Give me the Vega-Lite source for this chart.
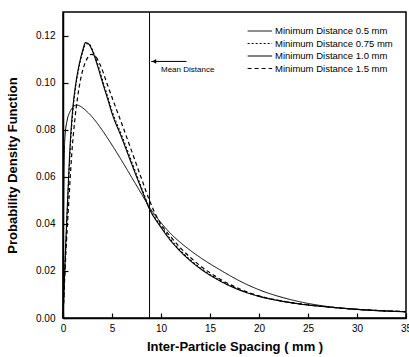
{
  "$schema": "https://vega.github.io/schema/vega-lite/v6.json",
  "width": 343,
  "height": 306,
  "autosize": {"type": "none"},
  "padding": {"left": 63, "top": 12, "right": 3, "bottom": 39},
  "background": "white",
  "config": {
    "font": "Liberation Sans",
    "view": {"stroke": "black", "strokeWidth": 1.5},
    "axis": {"domainColor": "black", "domainWidth": 1.5, "tickColor": "black", "tickWidth": 1.2, "labelColor": "black", "labelFont": "Liberation Sans", "labelFontSize": 10, "titleFont": "Liberation Sans", "titleFontSize": 13, "titleFontWeight": "bold", "titleColor": "black", "grid": false}
  },
  "datasets": {
    "curves": [
      {"x": 0, "y": 0, "s": "Minimum Distance 0.5 mm"},
      {"x": 0.05, "y": 0.035, "s": "Minimum Distance 0.5 mm"},
      {"x": 0.1, "y": 0.062, "s": "Minimum Distance 0.5 mm"},
      {"x": 0.2, "y": 0.077, "s": "Minimum Distance 0.5 mm"},
      {"x": 0.4, "y": 0.0835, "s": "Minimum Distance 0.5 mm"},
      {"x": 0.7, "y": 0.0875, "s": "Minimum Distance 0.5 mm"},
      {"x": 1.0, "y": 0.0895, "s": "Minimum Distance 0.5 mm"},
      {"x": 1.4, "y": 0.0905, "s": "Minimum Distance 0.5 mm"},
      {"x": 2.0, "y": 0.0893, "s": "Minimum Distance 0.5 mm"},
      {"x": 2.5, "y": 0.0875, "s": "Minimum Distance 0.5 mm"},
      {"x": 3.0, "y": 0.0853, "s": "Minimum Distance 0.5 mm"},
      {"x": 3.5, "y": 0.0827, "s": "Minimum Distance 0.5 mm"},
      {"x": 4.0, "y": 0.0798, "s": "Minimum Distance 0.5 mm"},
      {"x": 5, "y": 0.0735, "s": "Minimum Distance 0.5 mm"},
      {"x": 6, "y": 0.0668, "s": "Minimum Distance 0.5 mm"},
      {"x": 7, "y": 0.0598, "s": "Minimum Distance 0.5 mm"},
      {"x": 8, "y": 0.0528, "s": "Minimum Distance 0.5 mm"},
      {"x": 8.8, "y": 0.0472, "s": "Minimum Distance 0.5 mm"},
      {"x": 10, "y": 0.0405, "s": "Minimum Distance 0.5 mm"},
      {"x": 11, "y": 0.0358, "s": "Minimum Distance 0.5 mm"},
      {"x": 12, "y": 0.0320, "s": "Minimum Distance 0.5 mm"},
      {"x": 13, "y": 0.0287, "s": "Minimum Distance 0.5 mm"},
      {"x": 14, "y": 0.0257, "s": "Minimum Distance 0.5 mm"},
      {"x": 16, "y": 0.0205, "s": "Minimum Distance 0.5 mm"},
      {"x": 18, "y": 0.0158, "s": "Minimum Distance 0.5 mm"},
      {"x": 20, "y": 0.012, "s": "Minimum Distance 0.5 mm"},
      {"x": 22.5, "y": 0.0086, "s": "Minimum Distance 0.5 mm"},
      {"x": 25, "y": 0.0062, "s": "Minimum Distance 0.5 mm"},
      {"x": 27.5, "y": 0.0046, "s": "Minimum Distance 0.5 mm"},
      {"x": 30, "y": 0.0036, "s": "Minimum Distance 0.5 mm"},
      {"x": 32.5, "y": 0.003, "s": "Minimum Distance 0.5 mm"},
      {"x": 35, "y": 0.0026, "s": "Minimum Distance 0.5 mm"},

      {"x": 0, "y": 0, "s": "Minimum Distance 0.75 mm"},
      {"x": 0.25, "y": 0.027, "s": "Minimum Distance 0.75 mm"},
      {"x": 0.5, "y": 0.051, "s": "Minimum Distance 0.75 mm"},
      {"x": 0.75, "y": 0.073, "s": "Minimum Distance 0.75 mm"},
      {"x": 1.0, "y": 0.0875, "s": "Minimum Distance 0.75 mm"},
      {"x": 1.25, "y": 0.097, "s": "Minimum Distance 0.75 mm"},
      {"x": 1.5, "y": 0.1035, "s": "Minimum Distance 0.75 mm"},
      {"x": 1.75, "y": 0.1088, "s": "Minimum Distance 0.75 mm"},
      {"x": 2.0, "y": 0.113, "s": "Minimum Distance 0.75 mm"},
      {"x": 2.4, "y": 0.1165, "s": "Minimum Distance 0.75 mm"},
      {"x": 2.7, "y": 0.1162, "s": "Minimum Distance 0.75 mm"},
      {"x": 3.0, "y": 0.114, "s": "Minimum Distance 0.75 mm"},
      {"x": 3.5, "y": 0.1085, "s": "Minimum Distance 0.75 mm"},
      {"x": 4.0, "y": 0.1015, "s": "Minimum Distance 0.75 mm"},
      {"x": 4.6, "y": 0.0935, "s": "Minimum Distance 0.75 mm"},
      {"x": 5.0, "y": 0.088, "s": "Minimum Distance 0.75 mm"},
      {"x": 6.0, "y": 0.0775, "s": "Minimum Distance 0.75 mm"},
      {"x": 7.0, "y": 0.0665, "s": "Minimum Distance 0.75 mm"},
      {"x": 8.0, "y": 0.0555, "s": "Minimum Distance 0.75 mm"},
      {"x": 8.8, "y": 0.047, "s": "Minimum Distance 0.75 mm"},
      {"x": 10, "y": 0.039, "s": "Minimum Distance 0.75 mm"},
      {"x": 11, "y": 0.0333, "s": "Minimum Distance 0.75 mm"},
      {"x": 12, "y": 0.0286, "s": "Minimum Distance 0.75 mm"},
      {"x": 13, "y": 0.0247, "s": "Minimum Distance 0.75 mm"},
      {"x": 14, "y": 0.0213, "s": "Minimum Distance 0.75 mm"},
      {"x": 16, "y": 0.016, "s": "Minimum Distance 0.75 mm"},
      {"x": 18, "y": 0.012, "s": "Minimum Distance 0.75 mm"},
      {"x": 20, "y": 0.0093, "s": "Minimum Distance 0.75 mm"},
      {"x": 22.5, "y": 0.0071, "s": "Minimum Distance 0.75 mm"},
      {"x": 25, "y": 0.0056, "s": "Minimum Distance 0.75 mm"},
      {"x": 27.5, "y": 0.0046, "s": "Minimum Distance 0.75 mm"},
      {"x": 30, "y": 0.0037, "s": "Minimum Distance 0.75 mm"},
      {"x": 32.5, "y": 0.0031, "s": "Minimum Distance 0.75 mm"},
      {"x": 35, "y": 0.0027, "s": "Minimum Distance 0.75 mm"},

      {"x": 0, "y": 0, "s": "Minimum Distance 1.0 mm"},
      {"x": 0.25, "y": 0.028, "s": "Minimum Distance 1.0 mm"},
      {"x": 0.5, "y": 0.053, "s": "Minimum Distance 1.0 mm"},
      {"x": 0.75, "y": 0.075, "s": "Minimum Distance 1.0 mm"},
      {"x": 1.0, "y": 0.089, "s": "Minimum Distance 1.0 mm"},
      {"x": 1.25, "y": 0.098, "s": "Minimum Distance 1.0 mm"},
      {"x": 1.5, "y": 0.1045, "s": "Minimum Distance 1.0 mm"},
      {"x": 1.75, "y": 0.1095, "s": "Minimum Distance 1.0 mm"},
      {"x": 2.0, "y": 0.1135, "s": "Minimum Distance 1.0 mm"},
      {"x": 2.3, "y": 0.117, "s": "Minimum Distance 1.0 mm"},
      {"x": 2.6, "y": 0.1165, "s": "Minimum Distance 1.0 mm"},
      {"x": 3.0, "y": 0.1135, "s": "Minimum Distance 1.0 mm"},
      {"x": 3.5, "y": 0.1075, "s": "Minimum Distance 1.0 mm"},
      {"x": 4.0, "y": 0.1005, "s": "Minimum Distance 1.0 mm"},
      {"x": 4.6, "y": 0.0925, "s": "Minimum Distance 1.0 mm"},
      {"x": 5.0, "y": 0.087, "s": "Minimum Distance 1.0 mm"},
      {"x": 6.0, "y": 0.0765, "s": "Minimum Distance 1.0 mm"},
      {"x": 7.0, "y": 0.0655, "s": "Minimum Distance 1.0 mm"},
      {"x": 8.0, "y": 0.0548, "s": "Minimum Distance 1.0 mm"},
      {"x": 8.8, "y": 0.0465, "s": "Minimum Distance 1.0 mm"},
      {"x": 10, "y": 0.0385, "s": "Minimum Distance 1.0 mm"},
      {"x": 11, "y": 0.0328, "s": "Minimum Distance 1.0 mm"},
      {"x": 12, "y": 0.0282, "s": "Minimum Distance 1.0 mm"},
      {"x": 13, "y": 0.0243, "s": "Minimum Distance 1.0 mm"},
      {"x": 14, "y": 0.021, "s": "Minimum Distance 1.0 mm"},
      {"x": 16, "y": 0.0158, "s": "Minimum Distance 1.0 mm"},
      {"x": 18, "y": 0.0119, "s": "Minimum Distance 1.0 mm"},
      {"x": 20, "y": 0.0092, "s": "Minimum Distance 1.0 mm"},
      {"x": 22.5, "y": 0.007, "s": "Minimum Distance 1.0 mm"},
      {"x": 25, "y": 0.0055, "s": "Minimum Distance 1.0 mm"},
      {"x": 27.5, "y": 0.0045, "s": "Minimum Distance 1.0 mm"},
      {"x": 30, "y": 0.0037, "s": "Minimum Distance 1.0 mm"},
      {"x": 32.5, "y": 0.0031, "s": "Minimum Distance 1.0 mm"},
      {"x": 35, "y": 0.0027, "s": "Minimum Distance 1.0 mm"},

      {"x": 0, "y": 0, "s": "Minimum Distance 1.5 mm"},
      {"x": 0.3, "y": 0.028, "s": "Minimum Distance 1.5 mm"},
      {"x": 0.6, "y": 0.05, "s": "Minimum Distance 1.5 mm"},
      {"x": 0.9, "y": 0.07, "s": "Minimum Distance 1.5 mm"},
      {"x": 1.2, "y": 0.084, "s": "Minimum Distance 1.5 mm"},
      {"x": 1.5, "y": 0.094, "s": "Minimum Distance 1.5 mm"},
      {"x": 1.8, "y": 0.1015, "s": "Minimum Distance 1.5 mm"},
      {"x": 2.1, "y": 0.1065, "s": "Minimum Distance 1.5 mm"},
      {"x": 2.5, "y": 0.1105, "s": "Minimum Distance 1.5 mm"},
      {"x": 2.9, "y": 0.112, "s": "Minimum Distance 1.5 mm"},
      {"x": 3.3, "y": 0.1112, "s": "Minimum Distance 1.5 mm"},
      {"x": 3.8, "y": 0.1075, "s": "Minimum Distance 1.5 mm"},
      {"x": 4.5, "y": 0.0995, "s": "Minimum Distance 1.5 mm"},
      {"x": 5.1, "y": 0.0926, "s": "Minimum Distance 1.5 mm"},
      {"x": 6.0, "y": 0.0825, "s": "Minimum Distance 1.5 mm"},
      {"x": 7.0, "y": 0.071, "s": "Minimum Distance 1.5 mm"},
      {"x": 8.0, "y": 0.0593, "s": "Minimum Distance 1.5 mm"},
      {"x": 8.8, "y": 0.0502, "s": "Minimum Distance 1.5 mm"},
      {"x": 9.5, "y": 0.0435, "s": "Minimum Distance 1.5 mm"},
      {"x": 10, "y": 0.0398, "s": "Minimum Distance 1.5 mm"},
      {"x": 11, "y": 0.0345, "s": "Minimum Distance 1.5 mm"},
      {"x": 12, "y": 0.0297, "s": "Minimum Distance 1.5 mm"},
      {"x": 13, "y": 0.0257, "s": "Minimum Distance 1.5 mm"},
      {"x": 14, "y": 0.0222, "s": "Minimum Distance 1.5 mm"},
      {"x": 16, "y": 0.0166, "s": "Minimum Distance 1.5 mm"},
      {"x": 18, "y": 0.0124, "s": "Minimum Distance 1.5 mm"},
      {"x": 20, "y": 0.0094, "s": "Minimum Distance 1.5 mm"},
      {"x": 22.5, "y": 0.0071, "s": "Minimum Distance 1.5 mm"},
      {"x": 25, "y": 0.0056, "s": "Minimum Distance 1.5 mm"},
      {"x": 27.5, "y": 0.0045, "s": "Minimum Distance 1.5 mm"},
      {"x": 30, "y": 0.0037, "s": "Minimum Distance 1.5 mm"},
      {"x": 32.5, "y": 0.0031, "s": "Minimum Distance 1.5 mm"},
      {"x": 35, "y": 0.0027, "s": "Minimum Distance 1.5 mm"}
    ],
    "annot": [{"label": "Mean Distance"}]
  },
  "layer": [
    {
      "data": {"name": "curves"},
      "mark": {"type": "line", "color": "black", "interpolate": "monotone"},
      "encoding": {
        "x": {"field": "x", "type": "quantitative", "title": "Inter-Particle Spacing ( mm )",
          "scale": {"domain": [0, 35], "nice": false},
          "axis": {"values": [0, 2.5, 5, 7.5, 10, 12.5, 15, 17.5, 20, 22.5, 25, 27.5, 30, 32.5, 35],
            "labelExpr": "datum.value % 5 === 0 ? datum.label : ''",
            "tickSize": {"condition": {"test": "datum.value % 5 === 0", "value": -5}, "value": -3},
            "labelPadding": 10, "titlePadding": 7, "labelFlush": false, "labelOverlap": false}},
        "y": {"field": "y", "type": "quantitative", "title": "Probability Density Function",
          "scale": {"domain": [0, 0.13], "nice": false},
          "axis": {"values": [0, 0.01, 0.02, 0.03, 0.04, 0.05, 0.06, 0.07, 0.08, 0.09, 0.1, 0.11, 0.12, 0.13],
            "labelExpr": "round(datum.value * 100) % 2 === 0 ? format(datum.value, '.2f') : ''",
            "tickSize": {"condition": {"test": "round(datum.value * 100) % 2 === 0", "value": -5}, "value": -3},
            "labelPadding": 13, "titlePadding": 16, "labelFlush": false, "labelOverlap": false}},
        "strokeDash": {"field": "s", "type": "nominal",
          "scale": {"domain": ["Minimum Distance 0.5 mm", "Minimum Distance 0.75 mm", "Minimum Distance 1.0 mm", "Minimum Distance 1.5 mm"],
                    "range": [[1, 0], [2, 2], [1, 0], [4, 3]]},
          "legend": {"orient": "none", "legendX": 196, "legendY": 12, "title": null, "symbolType": "M-3,0H1", "symbolSize": 150, "symbolStrokeColor": "black", "symbolFillColor": "transparent", "labelFontSize": 9.5, "labelColor": "black", "labelOffset": 2, "rowPadding": 0.5}},
        "strokeWidth": {"field": "s", "type": "nominal",
          "scale": {"domain": ["Minimum Distance 0.5 mm", "Minimum Distance 0.75 mm", "Minimum Distance 1.0 mm", "Minimum Distance 1.5 mm"],
                    "range": [1, 1.2, 1.9, 1.3]},
          "legend": {"orient": "none", "legendX": 196, "legendY": 12, "title": null, "symbolType": "M-3,0H1", "symbolSize": 150, "symbolStrokeColor": "black", "symbolFillColor": "transparent", "labelFontSize": 9.5, "labelColor": "black", "labelOffset": 2, "rowPadding": 0.5}}
      }
    },
    {
      "data": {"name": "annot"},
      "mark": {"type": "rule", "color": "black", "strokeWidth": 1},
      "encoding": {"x": {"datum": 8.83}}
    },
    {
      "data": {"name": "annot"},
      "mark": {"type": "rule", "color": "black", "strokeWidth": 1},
      "encoding": {"x": {"datum": 9.0}, "x2": {"datum": 12.6}, "y": {"datum": 0.109}}
    },
    {
      "data": {"name": "annot"},
      "mark": {"type": "point", "shape": "triangle-left", "filled": true, "color": "black", "size": 22, "opacity": 1},
      "encoding": {"x": {"datum": 9.3}, "y": {"datum": 0.109}}
    },
    {
      "data": {"name": "annot"},
      "mark": {"type": "text", "align": "left", "baseline": "middle", "fontSize": 8, "color": "black", "font": "Liberation Sans"},
      "encoding": {"x": {"datum": 10.0}, "y": {"datum": 0.1053}, "text": {"field": "label"}}
    }
  ]
}
